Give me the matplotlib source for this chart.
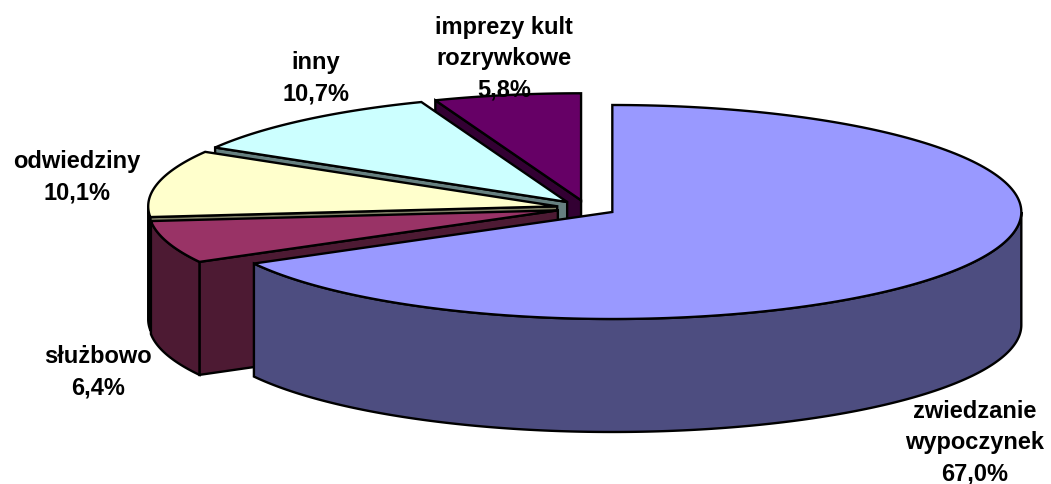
import numpy as np
import matplotlib
matplotlib.use('Agg')
import matplotlib.pyplot as plt
from matplotlib.patches import Polygon

plt.rcParams['font.family'] = ['Liberation Sans', 'DejaVu Sans']

labels = ['zwiedzanie\nwypoczynek', 'służbowo', 'odwiedziny', 'inny', 'imprezy kult\nrozrywkowe']
values = [67.0, 6.4, 10.1, 10.7, 5.8]
value_text = ['67,0%', '6,4%', '10,1%', '10,7%', '5,8%']
top_colors = ['#9999FF', '#993366', '#FFFFCC', '#CCFFFF', '#660066']
side_colors = ['#4D4D80', '#4D1A33', '#808066', '#668080', '#330033']
label_pos = [(975, 443), (98, 372), (77, 177), (316, 78), (504, 59)]

cx, cy = 586.5, 208
rx, ry = 409, 107
depth = 113
explode = 30
lw = 1.7


def rim(th, x0, y0):
    return x0 + rx * np.sin(th), y0 - ry * np.cos(th)


fig = plt.figure(figsize=(10.51, 4.84), dpi=100)
ax = fig.add_axes([0, 0, 1, 1])
ax.set_xlim(0, 1051)
ax.set_ylim(484, 0)
ax.axis('off')

stops = np.radians(np.cumsum([0] + values) * 3.6)
# back slices first, the big one last
for i in [4, 3, 2, 1, 0]:
    a, b = stops[i], stops[i + 1]
    mid = (a + b) / 2
    x0 = cx + explode * np.sin(mid)
    y0 = cy - explode * ry / rx * np.cos(mid)
    th = np.linspace(a, b, 200)
    xs, ys = rim(th, x0, y0)

    # cut face, only the ones turned towards the viewer
    for t, facing in ((a, -np.sin(a)), (b, np.sin(b))):
        if facing > 0:
            xe, ye = rim(t, x0, y0)
            ax.add_patch(Polygon([(x0, y0), (xe, ye), (xe, ye + depth), (x0, y0 + depth)],
                                 fc=side_colors[i], ec='k', lw=lw))
    # outer wall, front half only
    lo, hi = max(a, np.pi / 2), min(b, 3 * np.pi / 2)
    if hi > lo:
        tw = np.linspace(lo, hi, 200)
        xw, yw = rim(tw, x0, y0)
        pts = list(zip(xw, yw)) + list(zip(xw[::-1], yw[::-1] + depth))
        ax.add_patch(Polygon(pts, fc=side_colors[i], ec='k', lw=lw))
    ax.add_patch(Polygon([(x0, y0)] + list(zip(xs, ys)), fc=top_colors[i], ec='k', lw=lw))

for i in range(len(values)):
    ax.text(label_pos[i][0], label_pos[i][1], labels[i] + '\n' + value_text[i], ha='center', va='center',
            fontsize=17, fontweight='bold', linespacing=1.45, color='k')

fig.savefig('out.png', dpi=100)
